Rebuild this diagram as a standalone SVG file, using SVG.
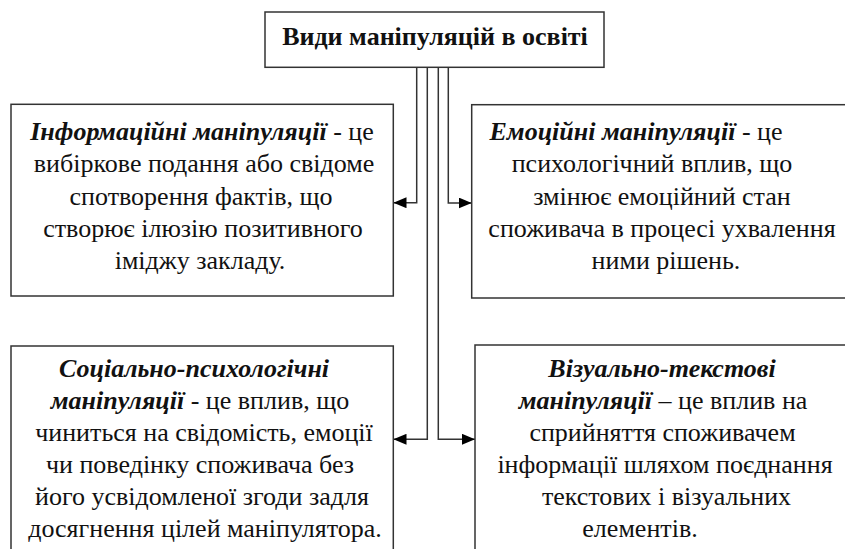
<svg xmlns="http://www.w3.org/2000/svg" width="845" height="549" viewBox="0 0 845 549">
<defs>
<marker id="arr" markerUnits="userSpaceOnUse" markerWidth="13" markerHeight="11" refX="13" refY="5.5" orient="auto">
<path d="M0,0 L13,5.5 L0,11 z" fill="#000"/>
</marker>
<style>
.box{fill:#fff;stroke:#333;stroke-width:1.5}
.conn{fill:none;stroke:#333;stroke-width:1.5}
.t{font-family:"Liberation Serif","Noto Sans CJK SC",serif;font-size:26px;fill:#111;text-anchor:middle}
.b{font-weight:bold}
.bi{font-weight:bold;font-style:italic}
</style>
</defs>
<rect width="845" height="549" fill="#fff"/>
<g id="connectors">
<path class="conn" d="M416.7,67.3 V202.7 H393.5" marker-end="url(#arr)"/>
<path class="conn" d="M448.3,67.3 V203 H471.7" marker-end="url(#arr)"/>
<path class="conn" d="M427.3,67.3 V439.3 H393.5" marker-end="url(#arr)"/>
<path class="conn" d="M438.3,67.3 V439.3 H475" marker-end="url(#arr)"/>
</g>
<g id="root">
<rect class="box" x="265" y="12" width="339" height="55.3"/>
<text class="t b" x="435" y="45">Види маніпуляцій в освіті</text>
</g>
<g id="info">
<rect class="box" x="11" y="104.3" width="382.3" height="191.7"/>
<text class="t" x="202" y="140"><tspan class="bi">Інформаційні маніпуляції</tspan> - це</text>
<text class="t" x="204" y="172.3">вибіркове подання або свідоме</text>
<text class="t" x="201" y="204.6">спотворення фактів, що</text>
<text class="t" x="203" y="237">створює ілюзію позитивного</text>
<text class="t" x="200" y="269.3">іміджу закладу.</text>
</g>
<g id="emotion">
<rect class="box" x="471.7" y="104.7" width="380" height="193.3"/>
<text class="t" x="636" y="140"><tspan class="bi">Емоційні маніпуляції</tspan> - це</text>
<text class="t" x="652" y="172.3">психологічний вплив, що</text>
<text class="t" x="662" y="204.6">змінює емоційний стан</text>
<text class="t" x="662" y="237">споживача в процесі ухвалення</text>
<text class="t" x="666" y="269.3">ними рішень.</text>
</g>
<g id="social">
<rect class="box" x="11" y="346" width="382.3" height="220"/>
<text class="t" x="194" y="377"><tspan class="bi">Соціально-психологічні</tspan></text>
<text class="t" x="200" y="409"><tspan class="bi">маніпуляції</tspan> - це вплив, що</text>
<text class="t" x="204" y="441">чиниться на свідомість, емоції</text>
<text class="t" x="200" y="473">чи поведінку споживача без</text>
<text class="t" x="202" y="505">його усвідомленої згоди задля</text>
<text class="t" x="205" y="537">досягнення цілей маніпулятора.</text>
</g>
<g id="visual">
<rect class="box" x="475" y="345" width="380" height="220"/>
<text class="t" x="662" y="377"><tspan class="bi">Візуально-текстові</tspan></text>
<text class="t" x="663" y="409"><tspan class="bi">маніпуляції</tspan> – це вплив на</text>
<text class="t" x="662.5" y="441">сприйняття споживачем</text>
<text class="t" x="665" y="473">інформації шляхом поєднання</text>
<text class="t" x="666.5" y="505">текстових і візуальних</text>
<text class="t" x="640" y="537">елементів.</text>
</g>
</svg>
